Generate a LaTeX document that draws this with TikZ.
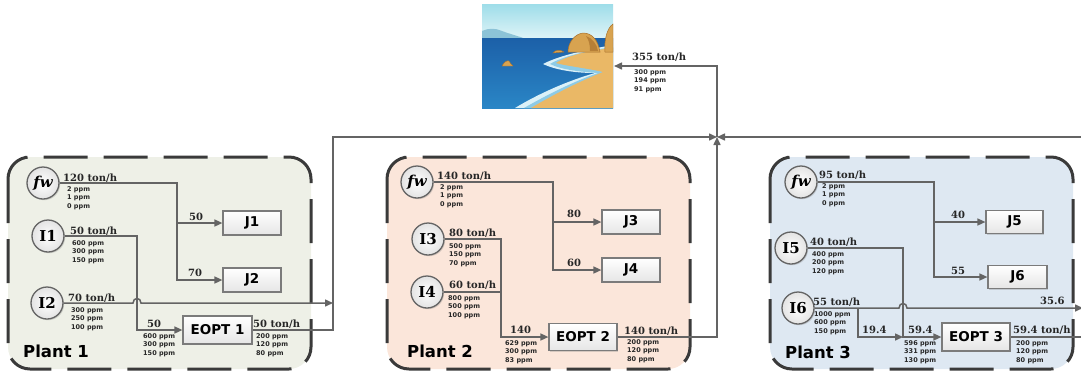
\documentclass[tikz,border=0pt]{standalone}
\usepackage{fontspec}
\newfontfamily\sansf{DejaVu Sans}
\newfontfamily\seriff{DejaVu Serif}
\usetikzlibrary{arrows.meta,shadows,calc}
\definecolor{lc}{HTML}{646464}
\definecolor{bd}{HTML}{3A3A3A}
\definecolor{pA}{HTML}{EEF0E7}
\definecolor{pB}{HTML}{FBE6DA}
\definecolor{pC}{HTML}{DEE8F2}
\definecolor{skyT}{HTML}{9EDDE9}
\definecolor{skyB}{HTML}{E2F5F8}
\definecolor{hillc}{HTML}{8CC3D7}
\definecolor{seaT}{HTML}{1C60A8}
\definecolor{seaB}{HTML}{2A86C6}
\definecolor{foamc}{HTML}{A6DCEE}
\definecolor{sandc}{HTML}{EAB866}
\definecolor{rockc}{HTML}{D8A350}
\definecolor{rockd}{HTML}{A8702C}
\tikzset{
  plantbox/.style={draw=bd, line width=3pt, dash pattern=on 44pt off 16pt, rounded corners=22pt},
  src/.style={circle, draw=lc, line width=1.3pt, inner color=white, outer color=gray!22, minimum size=32pt, inner sep=0pt,
    font=\seriff\bfseries\fontsize{15}{15}\selectfont, drop shadow={shadow xshift=1.2pt, shadow yshift=-1.2pt, opacity=.3}},
  unit/.style={rectangle, draw=lc!85, line width=1.2pt, top color=white, bottom color=gray!20, inner sep=0pt,
    font=\sansf\bfseries\fontsize{13.5}{13.5}\selectfont, drop shadow={shadow xshift=1.2pt, shadow yshift=-1.2pt, opacity=.3}},
  flow/.style={draw=lc, line width=1.5pt},
  arr/.style={flow, -{Triangle[length=8pt,width=7pt]}},
  rate/.style={anchor=base west, inner sep=0pt, font=\seriff\bfseries\fontsize{10}{10}\selectfont, text=black!85},
  conc/.style={anchor=north west, inner sep=0pt, align=left, font=\sansf\bfseries\fontsize{6.5}{8.5}\selectfont, text=black!85},
  plantlbl/.style={anchor=base west, inner sep=0pt, font=\sansf\bfseries\fontsize{16.5}{16.5}\selectfont},
}
\begin{document}
\begin{tikzpicture}[x=1pt,y=-1pt]
\useasboundingbox (0,0) rectangle (1081,373);

% plant containers
\draw[plantbox, fill=pA] (8,157) rectangle (311,369);
\draw[plantbox, fill=pB] (387,157) rectangle (690,369);
\draw[plantbox, fill=pC] (770,157) rectangle (1073,369);

% beach scene
\node[inner sep=0pt, minimum width=131pt, minimum height=104pt] (beach) at (547.5,56) {};
\begin{scope}
\clip (482,4) rectangle (613,108);
\shade[top color=skyT, bottom color=skyB] (482,4) rectangle (613,40);
\fill[hillc] (482,39) -- (482,31) .. controls (488,28) and (496,28) .. (502,31) .. controls (510,34) and (518,36) .. (526,39) -- cycle;
\shade[top color=seaT, bottom color=seaB] (482,38) rectangle (613,108);
\fill[white!60!foamc] (515,108) .. controls (538,94) and (567,81) .. (595,73) .. controls (579,73) and (558,71) .. (543,64) .. controls (560,55) and (590,49) .. (613,45) -- (613,108) -- cycle;
\fill[foamc!80!seaB] (524,108) .. controls (545,96) and (572,82) .. (598,73) .. controls (583,72) and (562,70) .. (550,64) .. controls (563,56) and (590,50) .. (613,47) -- (613,108) -- cycle;
\fill[sandc] (531,108) .. controls (551,96) and (578,82) .. (603,72) .. controls (586,68) and (566,66) .. (556,63) .. controls (568,55) and (592,50) .. (613,48) -- (613,108) -- cycle;
\fill[rockc, draw=rockd, line width=.5pt] (568,52) .. controls (568,42) and (575,34) .. (583,33) .. controls (592,33) and (598,40) .. (600,52) -- cycle;
\fill[rockd!70!rockc] (586,36) .. controls (592,38) and (597,44) .. (598,51) -- (590,51) .. controls (590,45) and (589,40) .. (586,36) -- cycle;
\fill[rockc, draw=rockd, line width=.5pt] (605,52) .. controls (604,40) and (607,28) .. (613,24) -- (613,52) -- cycle;
\fill[rockc, draw=rockd, line width=.4pt] (553,53) .. controls (555,50) and (560,49) .. (564,52) -- cycle;
\fill[rockc, draw=rockd, line width=.4pt] (502,66) .. controls (504,62) and (507,60) .. (509,61) .. controls (510,63) and (511,64) .. (513,66) -- cycle;
\end{scope}

% ---------------- Plant 1 ----------------
\node[src] (fw1) at (43,183) {\itshape fw};
\node[src] (I1) at (48,236) {I1};
\node[src] (I2) at (47,303) {I2};
\node[unit, minimum width=58pt, minimum height=24pt] (J1) at (252,223) {J1};
\node[unit, minimum width=58pt, minimum height=24pt] (J2) at (252,280) {J2};
\node[unit, minimum width=69pt, minimum height=28pt] (E1) at (217.5,330) {EOPT 1};

\coordinate (s1) at (177,183);
\coordinate (s2) at (137,236);
\coordinate (h1a) at (133,303);
\coordinate (h1b) at (141,303);
\coordinate (m1) at (333,303);
\coordinate (c1) at (333,137);
\coordinate (junc) at (717,137);

\draw[arr] (fw1) -- (s1) |- (J2.west);
\draw[arr] (s1 |- J1.west) -- (J1.west);
\draw[arr] (I1) -- (s2) |- (E1.west);
\draw[arr] (I2) -- (h1a) .. controls ($(h1a)+(0,-6)$) and ($(h1b)+(0,-6)$) .. (h1b) -- (m1);
\draw[arr] (E1.east) -| (c1) -- (junc);

\node[rate] (r11) at (63,181) {120 ton/h};
\node[conc] (c11) at (67,186) {2 ppm\\1 ppm\\0 ppm};
\node[rate] (r12) at (70,234) {50 ton/h};
\node[conc] (c12) at (72,240) {600 ppm\\300 ppm\\150 ppm};
\node[rate] (r13) at (68,301) {70 ton/h};
\node[conc] (c13) at (71,307) {300 ppm\\250 ppm\\100 ppm};
\node[rate] (r14) at (189,220) {50};
\node[rate] (r15) at (188,276) {70};
\node[rate] (r16) at (147,327) {50};
\node[conc] (c16) at (143,333) {600 ppm\\300 ppm\\150 ppm};
\node[rate] (r17) at (253,327) {50 ton/h};
\node[conc] (c17) at (256,333) {200 ppm\\120 ppm\\80 ppm};
\node[plantlbl] (P1) at (23,357) {Plant 1};

% ---------------- Plant 2 ----------------
\node[src] (fw2) at (417,182) {\itshape fw};
\node[src] (I3) at (428,239) {I3};
\node[src] (I4) at (427,292) {I4};
\node[unit, minimum width=58pt, minimum height=24pt] (J3) at (631,222) {J3};
\node[unit, minimum width=58pt, minimum height=24pt] (J4) at (631,270) {J4};
\node[unit, minimum width=68pt, minimum height=27pt] (E2) at (583,337) {EOPT 2};

\coordinate (s5) at (553,182);
\coordinate (s6) at (501,239);

\draw[arr] (fw2) -- (s5) |- (J4.west);
\draw[arr] (s5 |- J3.west) -- (J3.west);
\draw[arr] (I3) -- (s6) |- (E2.west);
\draw[flow] (I4) -- (I4 -| s6);
\draw[arr] (E2.east) -| (junc);

\node[rate] (r21) at (437,179) {140 ton/h};
\node[conc] (c21) at (440,184) {2 ppm\\1 ppm\\0 ppm};
\node[rate] (r22) at (449,236) {80 ton/h};
\node[conc] (c22) at (449,243) {500 ppm\\150 ppm\\70 ppm};
\node[rate] (r23) at (449,288) {60 ton/h};
\node[conc] (c23) at (448,295) {800 ppm\\500 ppm\\100 ppm};
\node[rate] (r24) at (567,217) {80};
\node[rate] (r25) at (567,266) {60};
\node[rate] (r26) at (510,333) {140};
\node[conc] (c26) at (505,340) {629 ppm\\300 ppm\\83 ppm};
\node[rate] (r27) at (624,334) {140 ton/h};
\node[conc] (c27) at (627,339) {200 ppm\\120 ppm\\80 ppm};
\node[plantlbl] (P2) at (407,357) {Plant 2};

% ---------------- Plant 3 ----------------
\node[src] (fw3) at (801,182) {\itshape fw};
\node[src] (I5) at (791,248) {I5};
\node[src] (I6) at (798,308) {I6};
\node[unit, minimum width=57pt, minimum height=23pt] (J5) at (1014.5,222) {J5};
\node[unit, minimum width=59pt, minimum height=23pt] (J6) at (1017.5,277) {J6};
\node[unit, minimum width=68pt, minimum height=28pt] (E3) at (976,337) {EOPT 3};

\coordinate (s7) at (934,182);
\coordinate (s8) at (903,248);
\coordinate (s9) at (858,308);
\coordinate (s10) at (903,337);
\coordinate (h3a) at (899,308);
\coordinate (h3b) at (907,308);
\coordinate (o6) at (1083,308);
\coordinate (o7) at (1083,337);
\coordinate (rin) at (1083,137);

\draw[arr] (fw3) -- (s7) |- (J6.west);
\draw[arr] (s7 |- J5.west) -- (J5.west);
\draw[arr] (I5) -- (s8) |- (E3.west);
\draw[arr] (I6) -- (h3a) .. controls ($(h3a)+(0,-6)$) and ($(h3b)+(0,-6)$) .. (h3b) -- (o6);
\draw[arr] (s9) |- (s10);
\draw[flow] (E3.east) -- (o7);
\draw[arr] (rin) -- (junc);

\node[rate] (r31) at (819,178) {95 ton/h};
\node[conc] (c31) at (822,183) {2 ppm\\1 ppm\\0 ppm};
\node[rate] (r32) at (810,245) {40 ton/h};
\node[conc] (c32) at (812,251) {400 ppm\\200 ppm\\120 ppm};
\node[rate] (r33) at (813,305) {55 ton/h};
\node[conc] (c33) at (814,311) {1000 ppm\\600 ppm\\150 ppm};
\node[rate] (r34) at (951,218) {40};
\node[rate] (r35) at (951,274) {55};
\node[rate] (r36) at (1040,304) {35.6};
\node[rate] (r37) at (862,333) {19.4};
\node[rate] (r38) at (908,333) {59.4};
\node[conc] (c38) at (904,340) {596 ppm\\331 ppm\\130 ppm};
\node[rate] (r39) at (1013,333) {59.4 ton/h};
\node[conc] (c39) at (1016,340) {200 ppm\\120 ppm\\80 ppm};
\node[plantlbl] (P3) at (785,358) {Plant 3};

% ---------------- outfall ----------------
\coordinate (up) at (717,66);
\coordinate (bin) at (614,66);
\draw[arr] (junc) -- (up) -- (bin);
\node[rate] (r40) at (632,60) {355 ton/h};
\node[conc] (c40) at (634,69) {300 ppm\\194 ppm\\91 ppm};
\end{tikzpicture}
\end{document}
